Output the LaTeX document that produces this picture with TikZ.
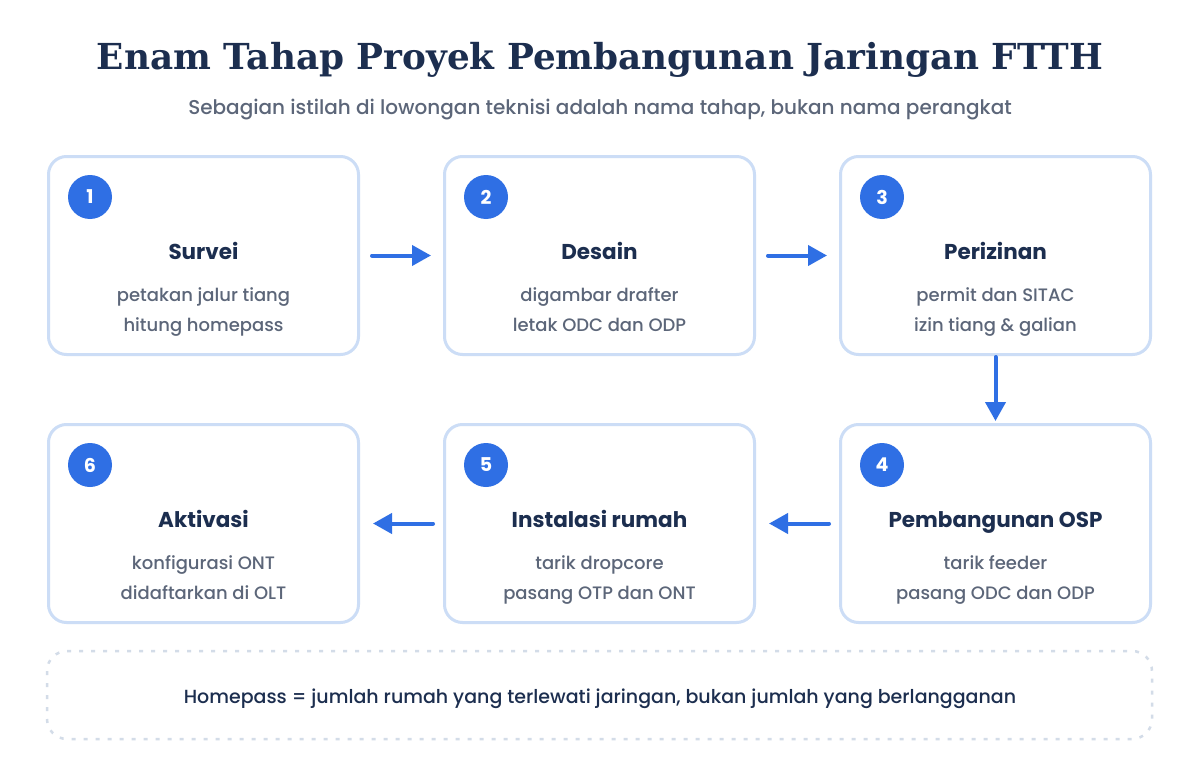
\documentclass[tikz,border=0pt]{standalone}
\usepackage{fontspec}
\usepackage{graphicx}
\setmainfont{Poppins}[UprightFont=* Medium,BoldFont=* Bold]
\newfontfamily\titlefont{DejaVu Serif}
\usetikzlibrary{arrows.meta,calc}
\definecolor{navy}{HTML}{1C2E4F}
\definecolor{subgray}{HTML}{5C6679}
\definecolor{boxborder}{HTML}{CCDDF6}
\definecolor{accent}{HTML}{2F6FE4}
\definecolor{dashgray}{HTML}{D3DCE8}
\begin{document}
\begin{tikzpicture}[x=1pt,y=-1pt,
  stagebox/.style={draw=boxborder,line width=3pt,rounded corners=18pt,fill=white,minimum width=310pt,minimum height=198pt,inner sep=0pt},
  numdot/.style={circle,fill=accent,minimum size=44pt,inner sep=0pt,text=white,font=\fontsize{19}{19}\selectfont\bfseries},
  stagetitle/.style={anchor=base,text=navy,font=\fontsize{21.5}{24}\selectfont\bfseries},
  stageline/.style={anchor=base,text=subgray,font=\fontsize{18}{20}\selectfont},
  flow/.style={draw=accent,line width=4pt,line cap=round,-{Triangle[length=19pt,width=20pt]}}
]
\fill[white] (0,0) rectangle (1200,760);
\useasboundingbox (0,0) rectangle (1200,760);

\node[text=navy,anchor=base] (title) at (600,70) {\resizebox{1006pt}{!}{\titlefont\bfseries Enam Tahap Proyek Pembangunan Jaringan FTTH}};
\node[text=subgray,anchor=base,font=\fontsize{20}{22}\selectfont] (sub) at (600,114) {Sebagian istilah di lowongan teknisi adalah nama tahap, bukan nama perangkat};

% boxes
\node[stagebox] (b1) at (203.5,255.5) {};
\node[stagebox] (b2) at (599.5,255.5) {};
\node[stagebox] (b3) at (995.5,255.5) {};
\node[stagebox] (b4) at (995.5,523.5) {};
\node[stagebox] (b5) at (599.5,523.5) {};
\node[stagebox] (b6) at (203.5,523.5) {};

% numbers
\foreach \b/\n in {b1/1,b2/2,b3/3,b4/4,b5/5,b6/6}{
  \node[numdot] (n\n) at ($(\b.north west)+(43,42)$) {\n};
}

% texts
\node[stagetitle] (t1) at ($(b1.north)+(0,104)$) {Survei};
\node[stageline] (l1a) at ($(b1.north)+(0,146.5)$) {petakan jalur tiang};
\node[stageline] (l1b) at ($(b1.north)+(0,176.5)$) {hitung homepass};

\node[stagetitle] (t2) at ($(b2.north)+(0,104)$) {Desain};
\node[stageline] (l2a) at ($(b2.north)+(0,146.5)$) {digambar drafter};
\node[stageline] (l2b) at ($(b2.north)+(0,176.5)$) {letak ODC dan ODP};

\node[stagetitle] (t3) at ($(b3.north)+(0,104)$) {Perizinan};
\node[stageline] (l3a) at ($(b3.north)+(0,146.5)$) {permit dan SITAC};
\node[stageline] (l3b) at ($(b3.north)+(0,176.5)$) {izin tiang \& galian};

\node[stagetitle] (t4) at ($(b4.north)+(0,104)$) {Pembangunan OSP};
\node[stageline] (l4a) at ($(b4.north)+(0,146.5)$) {tarik feeder};
\node[stageline] (l4b) at ($(b4.north)+(0,176.5)$) {pasang ODC dan ODP};

\node[stagetitle] (t5) at ($(b5.north)+(0,104)$) {Instalasi rumah};
\node[stageline] (l5a) at ($(b5.north)+(0,146.5)$) {tarik dropcore};
\node[stageline] (l5b) at ($(b5.north)+(0,176.5)$) {pasang OTP dan ONT};

\node[stagetitle] (t6) at ($(b6.north)+(0,104)$) {Aktivasi};
\node[stageline] (l6a) at ($(b6.north)+(0,146.5)$) {konfigurasi ONT};
\node[stageline] (l6b) at ($(b6.north)+(0,176.5)$) {didaftarkan di OLT};

% arrows
\draw[flow,shorten <=12pt,shorten >=12pt] (b1.east) -- (b2.west);
\draw[flow,shorten <=12pt,shorten >=12pt] (b2.east) -- (b3.west);
\draw[flow,shorten <=1pt,shorten >=2pt] (b3.south) -- (b4.north);
\draw[flow,shorten <=10pt,shorten >=13pt] (b4.west) -- (b5.east);
\draw[flow,shorten <=10pt,shorten >=13pt] (b5.west) -- (b6.east);

% note
\draw[dashgray,line width=2.5pt,dash pattern=on 4pt off 8pt,rounded corners=20pt] (47,651) rectangle (1152,739);
\node[text=navy,anchor=base,font=\fontsize{19}{22}\selectfont] (note) at (600,703) {Homepass = jumlah rumah yang terlewati jaringan, bukan jumlah yang berlangganan};
\end{tikzpicture}
\end{document}
